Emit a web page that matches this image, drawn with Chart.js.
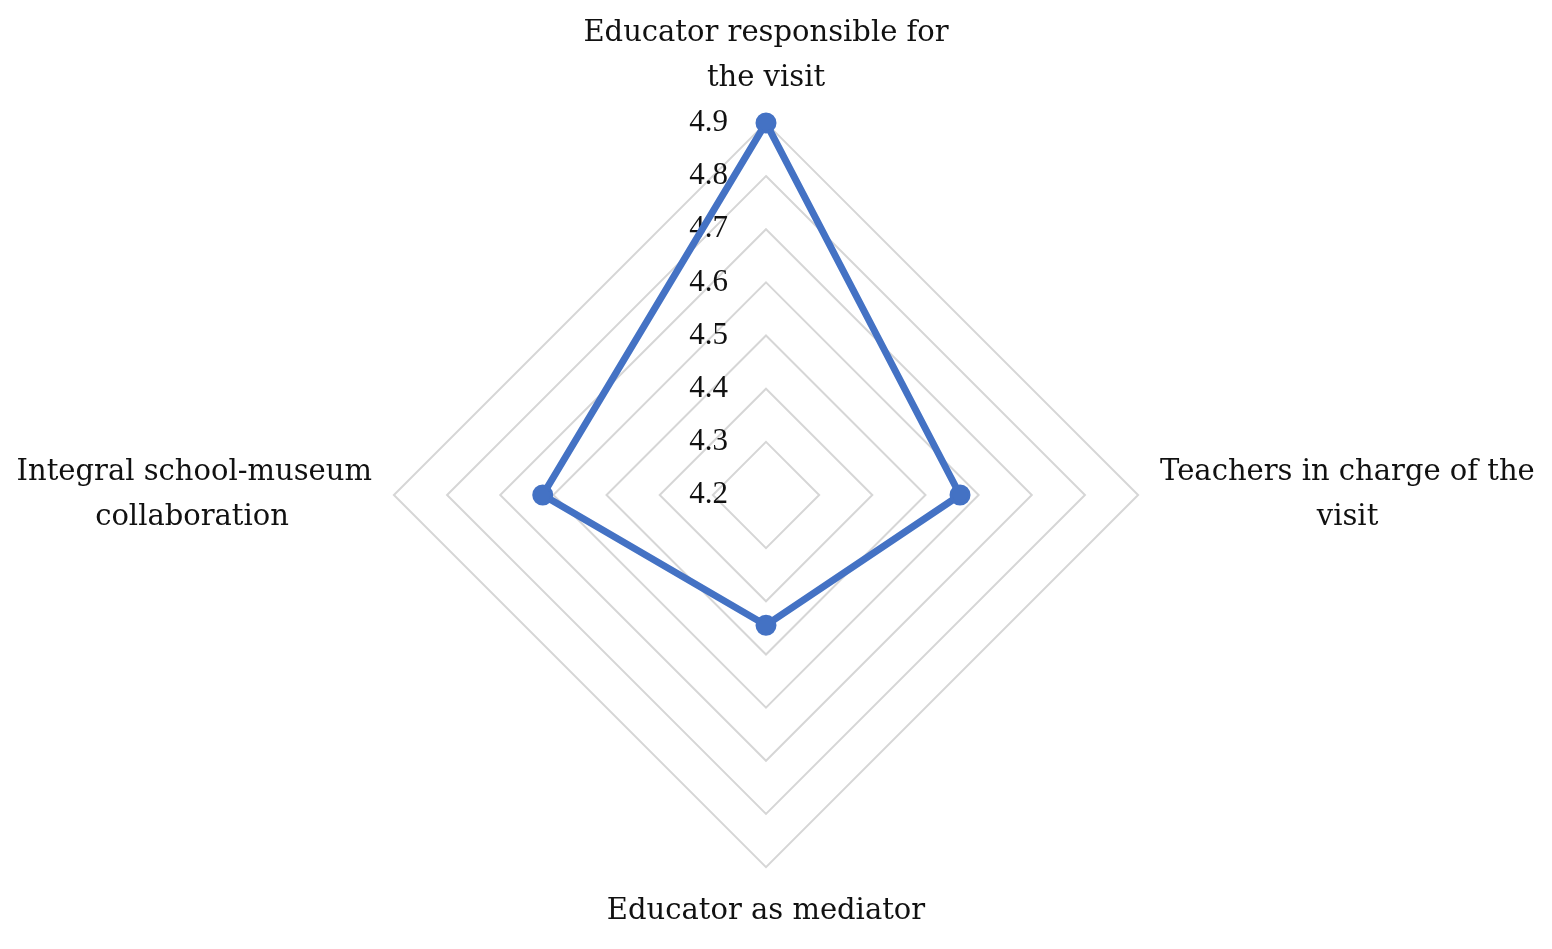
<!DOCTYPE html>
<html>
<head>
<meta charset="utf-8">
<script src="https://cdn.jsdelivr.net/npm/chart.js@4.4.1/dist/chart.umd.min.js"></script>
<style>
  html, body { margin: 0; padding: 0; background: #ffffff; overflow: hidden; width: 1552px; height: 949px; }
  canvas { display: block; margin-top: -11px; }
</style>
</head>
<body>
<canvas id="c" width="1552" height="968"></canvas>
<script>
const categories = [
  ['Educator responsible for', 'the visit'],
  ['Teachers in charge of the', 'visit'],
  ['Educator as mediator'],
  ['Integral school-museum', 'collaboration']
];
const seriesName = 'Mean score';
const seriesValues = [4.90, 4.565, 4.445, 4.62];
const tickValues = [4.2, 4.3, 4.4, 4.5, 4.6, 4.7, 4.8, 4.9];
const tickLabels = ['4.2', '4.3', '4.4', '4.5', '4.6', '4.7', '4.8', '4.9'];

const LABEL_FONT_FAMILY = '"DejaVu Serif", serif';
const LABEL_FONT_SIZE = 29;
const TICK_FONT = '31px "Liberation Serif", serif';

// Centre continuation lines under the first line (Chart.js aligns all lines of a point label alike)
const measureCtx = document.createElement('canvas').getContext('2d');
measureCtx.font = LABEL_FONT_SIZE + 'px ' + LABEL_FONT_FAMILY;
const NBSP = '\u00a0';
function centredLines(lines, align) {
  if (lines.length < 2 || align === 'center') return lines;
  const w1 = measureCtx.measureText(lines[0]).width;
  const sp = measureCtx.measureText(NBSP).width;
  return lines.map((ln, i) => {
    if (i === 0) return ln;
    const w = measureCtx.measureText(ln).width;
    const n = Math.max(0, Math.round((w1 - w) / 2 / sp));
    return align === 'left' ? NBSP.repeat(n) + ln : ln + NBSP.repeat(n);
  });
}
const aligns = ['center', 'left', 'center', 'right'];
const displayLabels = categories.map((c, i) => centredLines(c, aligns[i]));

const sideTicks = {
  id: 'sideTicks',
  beforeDatasetsDraw(chart) {
    const s = chart.scales.r;
    const ctx = chart.ctx;
    ctx.save();
    ctx.font = TICK_FONT;
    ctx.fillStyle = '#111111';
    ctx.textAlign = 'right';
    ctx.textBaseline = 'middle';
    tickValues.forEach((v, i) => {
      const d = s.getDistanceFromCenterForValue(v);
      ctx.fillText(tickLabels[i], s.xCenter - 38, s.yCenter - d);
    });
    ctx.restore();
  }
};

new Chart(document.getElementById('c'), {
  type: 'radar',
  data: {
    labels: displayLabels,
    datasets: [{
      label: seriesName,
      data: seriesValues,
      borderColor: '#4472C4',
      backgroundColor: '#4472C4',
      borderWidth: 7,
      fill: false,
      pointRadius: 9,
      pointBorderWidth: 3,
      pointBackgroundColor: '#4472C4',
      pointBorderColor: '#4472C4',
      tension: 0
    }]
  },
  options: {
    responsive: false,
    animation: false,
    layout: { padding: 0 },
    plugins: {
      legend: { display: false },
      tooltip: { enabled: false }
    },
    scales: {
      r: {
        min: 4.2,
        max: 4.9,
        ticks: { display: false, stepSize: 0.1 },
        grid: { color: '#d6d6d6', lineWidth: 2, circular: false },
        angleLines: { display: false },
        pointLabels: {
          display: true,
          padding: 22,
          color: '#111111',
          font: { family: LABEL_FONT_FAMILY, size: LABEL_FONT_SIZE, lineHeight: 1.55 }
        }
      }
    }
  },
  plugins: [sideTicks]
});
</script>
</body>
</html>
